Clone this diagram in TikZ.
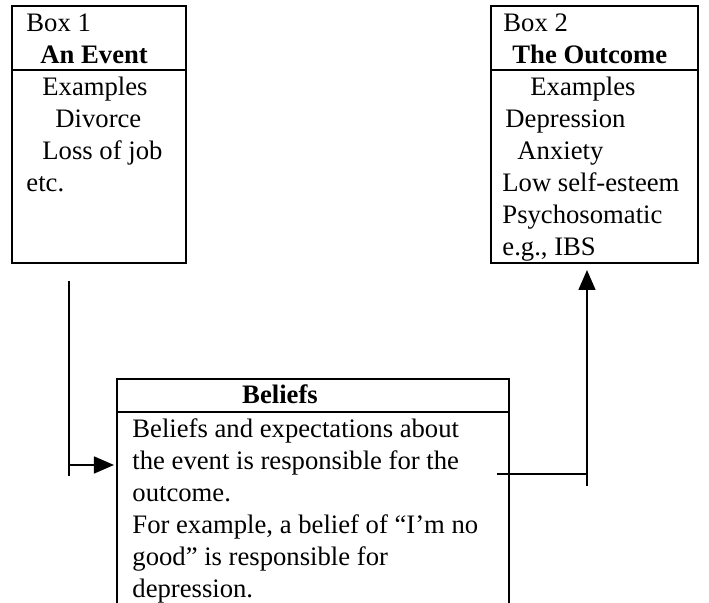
\documentclass[tikz,border=0pt]{standalone}
\usepackage{fontspec}
\setmainfont{Liberation Serif}
\usetikzlibrary{arrows.meta}
\begin{document}
\begin{tikzpicture}[x=0.45pt,y=-0.45pt,
  frame/.style={draw,line width=0.9pt,inner sep=0pt,outer sep=0pt,anchor=north west},
  rule/.style={line width=0.9pt},
  txt/.style={anchor=base west,inner sep=0pt,font=\fontsize{12}{14}\selectfont},
  btxt/.style={txt,font=\fontsize{12}{14}\selectfont\bfseries},
  conn/.style={line width=0.85pt},
  tip/.style={-{Triangle[length=9pt,width=7.6pt]}}]
\useasboundingbox (0,0) rectangle (709,603);
\clip (0,0) rectangle (709,603);

% boxes
\node[frame,minimum width=174*0.45pt,minimum height=257*0.45pt] (box1) at (12,6) {};
\node[frame,minimum width=207*0.45pt,minimum height=257*0.45pt] (box2) at (491,6) {};
\node[frame,minimum width=392*0.45pt,minimum height=260*0.45pt] (beliefs) at (117,379) {};

% header dividers
\draw[rule] (box1.west |- 0,70) -- (box1.east |- 0,70);
\draw[rule] (box2.west |- 0,70) -- (box2.east |- 0,70);
\draw[rule] (beliefs.west |- 0,412) -- (beliefs.east |- 0,412);

% Box 1 text
\node[txt]  (t1a) at (26,32)  {Box 1};
\node[btxt] (t1b) at (40,64)  {An Event};
\node[txt]  (t1c) at (42,96)  {Examples};
\node[txt]  (t1d) at (55,128) {Divorce};
\node[txt]  (t1e) at (42,160) {Loss of job};
\node[txt]  (t1f) at (26,192) {etc.};

% Box 2 text
\node[txt]  (t2a) at (503,32)  {Box 2};
\node[btxt] (t2b) at (512,64)  {The Outcome};
\node[txt]  (t2c) at (530,96)  {Examples};
\node[txt]  (t2d) at (505,128) {Depression};
\node[txt]  (t2e) at (517,160) {Anxiety};
\node[txt]  (t2f) at (502,192) {Low self-esteem};
\node[txt]  (t2g) at (502,224) {Psychosomatic};
\node[txt]  (t2h) at (502,256) {e.g., IBS};

% Beliefs text
\node[btxt,anchor=base] (t3a) at (280,404) {Beliefs};
\node[txt] (t3b) at (132,438) {Beliefs and expectations about};
\node[txt] (t3c) at (132,470) {the event is responsible for the};
\node[txt] (t3d) at (132,502) {outcome.};
\node[txt] (t3e) at (132,534) {For example, a belief of “I’m no};
\node[txt] (t3f) at (132,566) {good” is responsible for};
\node[txt] (t3g) at (132,598) {depression.};

% left connector: event -> beliefs
\coordinate (ltop) at (69,281);
\coordinate (lbot) at (69,476);
\coordinate (ljoin) at (69,465);
\draw[conn] (ltop) -- (lbot);
\draw[conn,tip,shorten >=3*0.45pt] (ljoin) -- (ljoin -| beliefs.west);

% right connector: beliefs -> outcome
\coordinate (rstart) at (497,474);
\coordinate (rjoin) at (587,474);
\coordinate (rbot) at (587,486);
\draw[conn] (rstart) -- (rjoin);
\draw[conn,tip,shorten >=7*0.45pt] (rbot) -- (rbot |- box2.south);
\end{tikzpicture}
\end{document}
